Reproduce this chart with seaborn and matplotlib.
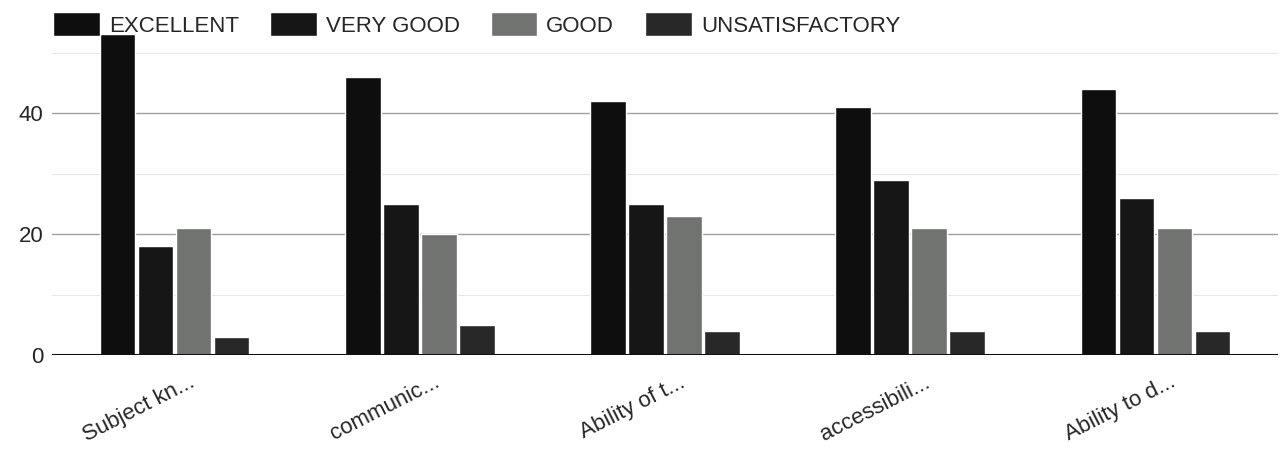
import matplotlib
matplotlib.use("Agg")
import matplotlib.pyplot as plt
import matplotlib.transforms as mtransforms
import seaborn as sns
import pandas as pd

### Data
criteria = ["Subject kn...", "communic...", "Ability of t...", "accessibili...", "Ability to d..."]
ratings = ["EXCELLENT", "VERY GOOD", "GOOD", "UNSATISFACTORY"]
excellent = [53, 46, 42, 41, 44]
very_good = [18, 25, 25, 29, 26]
good = [21, 20, 23, 21, 21]
unsatisfactory = [3, 5, 4, 4, 4]

df = pd.DataFrame({
    "criterion": criteria * 4,
    "rating": [r for r in ratings for _ in criteria],
    "count": excellent + very_good + good + unsatisfactory,
})

sns.set_theme(style="white")
plt.rcParams["font.family"] = ["Liberation Sans", "DejaVu Sans"]

palette = {"EXCELLENT": "#0e0e0e", "VERY GOOD": "#161616",
           "GOOD": "#707370", "UNSATISFACTORY": "#282828"}

fig = plt.figure(figsize=(12.86, 4.66), dpi=100)
ax = fig.add_axes([0.0404, 0.2382, 0.9534, 0.7618])

sns.barplot(data=df, x="criterion", y="count", hue="rating", hue_order=ratings,
            palette=palette, width=0.62, gap=0.06, saturation=1, ax=ax,
            legend=True)

ax.set_xlim(-0.5, 4.5)
ax.set_ylim(0, 58.7)
ax.set_yticks([0, 20, 40])
ax.set_yticks([10, 30, 50], minor=True)
ax.grid(axis="y", which="major", color="#a0a0a0", linewidth=1.0)
ax.grid(axis="y", which="minor", color="#e6e6e6", linewidth=0.8)
ax.set_axisbelow(True)
ax.axhline(0, color="#111111", linewidth=2.2, zorder=5)
for s in ax.spines.values():
    s.set_visible(False)
ax.tick_params(axis="both", length=0)
ax.tick_params(axis="y", labelsize=16, pad=6)
ax.tick_params(axis="x", labelsize=16, pad=12)
# shift labels a bit right so they end near the group centre
shift = mtransforms.ScaledTranslation(14 / 100, 0, fig.dpi_scale_trans)
for lbl in ax.get_xticklabels():
    lbl.set_rotation(27)
    lbl.set_ha("right")
    lbl.set_rotation_mode("anchor")
    lbl.set_transform(lbl.get_transform() + shift)
ax.set_xlabel("")
ax.set_ylabel("")

handles, labels = ax.get_legend_handles_labels()
ax.get_legend().remove()
fig.legend(handles, labels, loc="upper left", bbox_to_anchor=(0.026, 1.017),
           ncol=4, frameon=False, fontsize=16, handlelength=2.1,
           handleheight=1.3, columnspacing=1.4, handletextpad=0.4)

fig.savefig("out.png", dpi=100)
